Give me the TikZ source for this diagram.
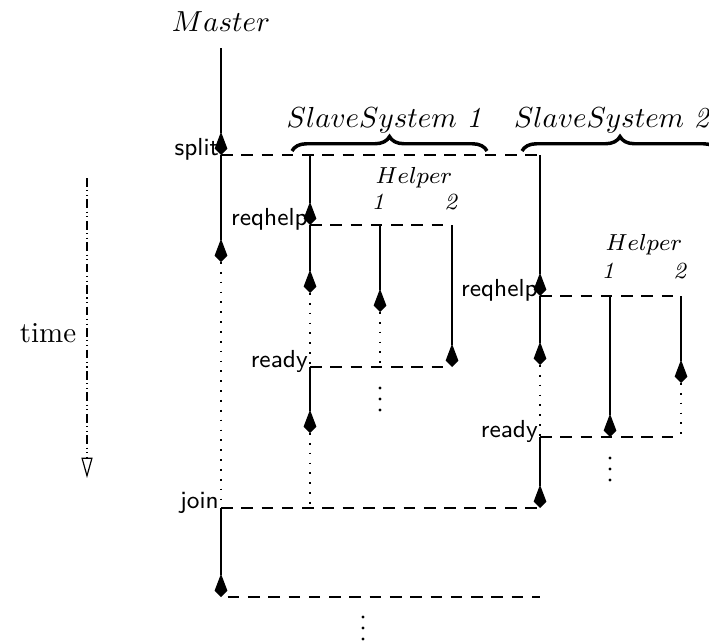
\documentclass[tikz,border=0pt]{standalone}
\usepackage{amsmath}
\usepackage{amssymb}
\usepackage{tikz}
\usetikzlibrary{arrows.meta,decorations.pathreplacing}
\tikzset{
% Time lines: running (with a tip), waiting (dotted), barriers (dashed)
run/.style={-{Kite[length=8pt,width=4.4pt,inset=5.8pt]}},
wait/.style={dash pattern=on 0.6pt off 2.8pt},
barrier/.style={dash pattern=on 4pt off 3pt},
event/.style={anchor=base east,inner sep=0.6pt,font=\sffamily\fontsize{8.5}{10}\selectfont},
group/.style={decorate,decoration={brace,amplitude=5pt},line width=1.2pt}
}

\begin{document}
\begin{tikzpicture}[x=0.345pt,y=-0.345pt,line width=0.4pt]
\useasboundingbox (0,0) rectangle (709,641);
% Master
\node(M) at (221,22) {$Master$};
\coordinate (m0) at (221,48);
\coordinate (split) at (221,155);
\coordinate (m1) at (221,262);
\coordinate (join) at (221,508);
\coordinate (m2) at (221,597);
% Slave system 1 and its helpers
\coordinate (s1) at (310,155);
\coordinate (s1req) at (310,225);
\coordinate (s1a) at (310,293);
\coordinate (s1ready) at (310,367);
\coordinate (s1b) at (310,433);
\coordinate (s1join) at (310,508);
\coordinate (h11) at (380,225);
\coordinate (h11a) at (380,312);
\coordinate (h11r) at (380,367);
\coordinate (h12) at (452,225);
\coordinate (h12r) at (452,367);
% Slave system 2 and its helpers
\coordinate (s2) at (540,155);
\coordinate (s2req) at (540,296);
\coordinate (s2a) at (540,365);
\coordinate (s2ready) at (540,437);
\coordinate (s2join) at (540,508);
\coordinate (s2end) at (540,597);
\coordinate (h21) at (610,296);
\coordinate (h21r) at (610,437);
\coordinate (h22) at (681,296);
\coordinate (h22a) at (681,383);
\coordinate (h22r) at (681,437);

% time lines
\draw[run] (m0) -- (split);
\draw[run] (split) -- (m1);
\draw[wait] (m1) -- (join);
\draw[run] (join) -- (m2);
\draw[run] (s1) -- (s1req);
\draw[run] (s1req) -- (s1a);
\draw[wait] (s1a) -- (s1ready);
\draw[run] (s1ready) -- (s1b);
\draw[wait] (s1b) -- (s1join);
\draw[run] (h11) -- (h11a);
\draw[wait] (h11a) -- (h11r);
\draw[run] (h12) -- (h12r);
\draw[run] (s2) -- (s2req);
\draw[run] (s2req) -- (s2a);
\draw[wait] (s2a) -- (s2ready);
\draw[run] (s2ready) -- (s2join);
\draw[run] (h21) -- (h21r);
\draw[run] (h22) -- (h22a);
\draw[wait] (h22a) -- (h22r);

% barriers
\draw[barrier] (split) -- (s2);
\draw[barrier] (join) -- (s2join);
\draw[barrier,shorten <=2.3pt] (m2) -- (s2end);
\draw[barrier] (s1req) -- (h12);
\draw[barrier] (s1ready) -- (h12r);
\draw[barrier] (s2req) -- (h22);
\draw[barrier] (s2ready) -- (h22r);

% event names
\node[event](e1) at (split) {split};
\node[event](e2) at (s1req) {reqhelp};
\node[event](e3) at (s1ready) {ready};
\node[event](e4) at (s2req) {reqhelp};
\node[event](e5) at (s2ready) {ready};
\node[event](e6) at (join) {join};

% slave systems
\draw[group] (292,151) -- (487,151);
\draw[group] (522,151) -- (718,151);
\node(S1) at (384,120) {$SlaveSystem$ \textit{1}};
\node(S2) at (612,120) {$SlaveSystem$ \textit{2}};
\node[font=\footnotesize](H1) at (414,178) {$Helper$};
\node[font=\footnotesize](H11) at (378,202) {\textit{1}};
\node[font=\footnotesize](H12) at (451,202) {\textit{2}};
\node[font=\footnotesize](H2) at (644,245) {$Helper$};
\node[font=\footnotesize](H21) at (608,271) {\textit{1}};
\node[font=\footnotesize](H22) at (680,271) {\textit{2}};

% more to come
\foreach \y in {388,399,410} \fill (380,\y) circle (1.6);
\foreach \y in {458,469,480} \fill (610,\y) circle (1.6);
\foreach \y in {617,628,639} \fill (363,\y) circle (1.6);

% time axis
\node(T) at (48,333) {time};
\coordinate (t0) at (87,178);
\coordinate (t1) at (87,478);
\draw[-{Triangle[open,length=7pt,width=3.8pt]},dash pattern=on 3pt off 1.2pt on 0.4pt off 1.2pt on 0.4pt off 1.2pt] (t0) -- (t1);
\end{tikzpicture}
\end{document}
